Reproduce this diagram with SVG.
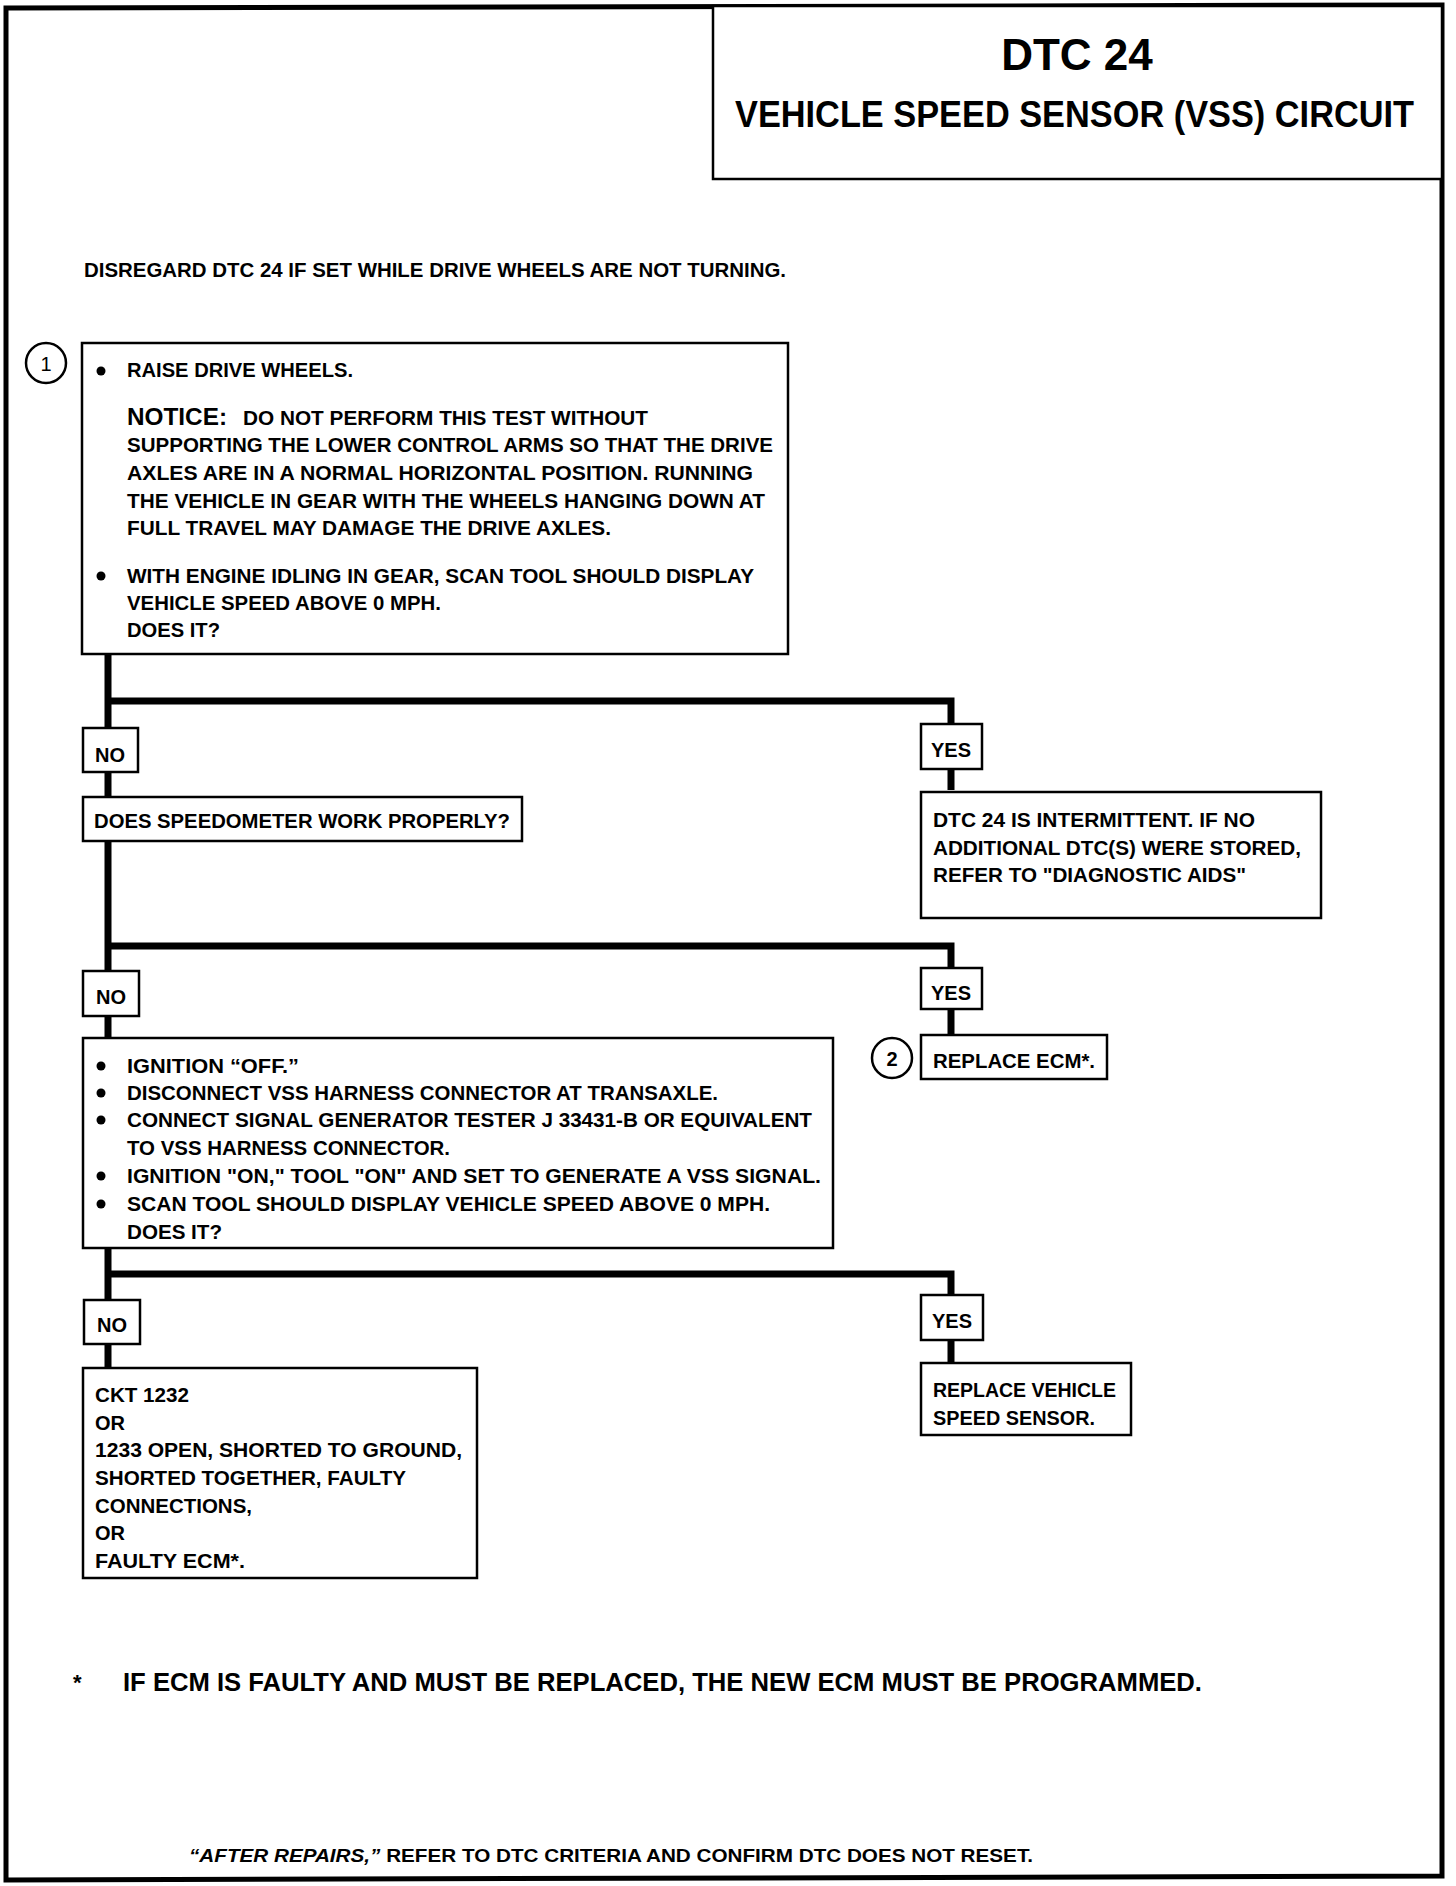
<svg xmlns="http://www.w3.org/2000/svg" width="1456" height="1886" viewBox="0 0 1456 1886">
<style>
text{font-family:"Liberation Sans",Arial,sans-serif;font-weight:bold;fill:#000}
.t{font-size:20px}
.box{fill:#fff;stroke:#000;stroke-width:2.5}
.wire{fill:none;stroke:#000;stroke-width:7;stroke-linejoin:miter}
.bul{fill:#000}
</style>
<rect width="1456" height="1886" fill="#fff"/>
<g id="frame">
<path d="M6,8 L1442,5 L1442,1876 L6,1880 Z" fill="none" stroke="#000" stroke-width="5"/>
</g>
<g id="title">
<rect x="713" y="6" width="729" height="173" fill="#fff" stroke="#000" stroke-width="2.5"/>
<text x="1077" y="70" font-size="44" text-anchor="middle">DTC 24</text>
<text x="735" y="127" font-size="36" textLength="679" lengthAdjust="spacingAndGlyphs">VEHICLE SPEED SENSOR (VSS) CIRCUIT</text>
</g>
<g id="note-top">
<text class="t" x="84" y="277" font-size="19" textLength="702" lengthAdjust="spacingAndGlyphs">DISREGARD DTC 24 IF SET WHILE DRIVE WHEELS ARE NOT TURNING.</text>
</g>
<g id="connectors">
<path class="wire" d="M108,654 L108,1367"/>
<path class="wire" d="M108,701 L951,701 L951,790"/>
<path class="wire" d="M108,946 L951,946 L951,1034"/>
<path class="wire" d="M108,1274 L951,1274 L951,1363"/>
</g>
<g id="step1">
<circle cx="46" cy="363" r="20" fill="#fff" stroke="#000" stroke-width="2.5"/>
<text x="46" y="371" font-size="20" text-anchor="middle" style="font-weight:normal">1</text>
<rect class="box" x="82" y="343" width="706" height="311"/>
<circle class="bul" cx="101" cy="371" r="4.5"/>
<text class="t" x="127" y="377" textLength="226" lengthAdjust="spacingAndGlyphs">RAISE DRIVE WHEELS.</text>
<text x="127" y="425" font-size="24" textLength="100" lengthAdjust="spacingAndGlyphs">NOTICE:</text>
<text class="t" x="243" y="425" textLength="405" lengthAdjust="spacingAndGlyphs">DO NOT PERFORM THIS TEST WITHOUT</text>
<text class="t" x="127" y="452" textLength="646" lengthAdjust="spacingAndGlyphs">SUPPORTING THE LOWER CONTROL ARMS SO THAT THE DRIVE</text>
<text class="t" x="127" y="480" textLength="626" lengthAdjust="spacingAndGlyphs">AXLES ARE IN A NORMAL HORIZONTAL POSITION.  RUNNING</text>
<text class="t" x="127" y="508" textLength="638" lengthAdjust="spacingAndGlyphs">THE VEHICLE IN GEAR WITH THE WHEELS HANGING DOWN AT</text>
<text class="t" x="127" y="535" textLength="484" lengthAdjust="spacingAndGlyphs">FULL TRAVEL MAY DAMAGE THE DRIVE AXLES.</text>
<circle class="bul" cx="101" cy="576" r="4.5"/>
<text class="t" x="127" y="583" textLength="627" lengthAdjust="spacingAndGlyphs">WITH ENGINE IDLING IN GEAR, SCAN TOOL SHOULD DISPLAY</text>
<text class="t" x="127" y="610" textLength="314" lengthAdjust="spacingAndGlyphs">VEHICLE SPEED ABOVE 0 MPH.</text>
<text class="t" x="127" y="637" textLength="93" lengthAdjust="spacingAndGlyphs">DOES IT?</text>
</g>
<g id="no1">
<rect class="box" x="83" y="728" width="55" height="44"/>
<text class="t" x="110" y="762" text-anchor="middle">NO</text>
</g>
<g id="speedo">
<rect class="box" x="83" y="797" width="439" height="44"/>
<text class="t" x="94" y="828" textLength="416" lengthAdjust="spacingAndGlyphs">DOES SPEEDOMETER WORK PROPERLY?</text>
</g>
<g id="yes1">
<rect class="box" x="921" y="724" width="61" height="45"/>
<text class="t" x="951" y="757" text-anchor="middle">YES</text>
</g>
<g id="intermittent">
<rect class="box" x="921" y="792" width="400" height="126"/>
<text class="t" x="933" y="827" textLength="322" lengthAdjust="spacingAndGlyphs">DTC 24 IS INTERMITTENT.  IF NO</text>
<text class="t" x="933" y="855" textLength="368" lengthAdjust="spacingAndGlyphs">ADDITIONAL DTC(S) WERE STORED,</text>
<text class="t" x="933" y="882" textLength="313" lengthAdjust="spacingAndGlyphs">REFER TO "DIAGNOSTIC AIDS"</text>
</g>
<g id="no2">
<rect class="box" x="83" y="971" width="56" height="45"/>
<text class="t" x="111" y="1004" text-anchor="middle">NO</text>
</g>
<g id="yes2">
<rect class="box" x="921" y="968" width="61" height="41"/>
<text class="t" x="951" y="1000" text-anchor="middle">YES</text>
</g>
<g id="step2">
<circle cx="892" cy="1058" r="20" fill="#fff" stroke="#000" stroke-width="2.5"/>
<text x="892" y="1066" font-size="20" text-anchor="middle">2</text>
<rect class="box" x="921" y="1035" width="186" height="44"/>
<text class="t" x="933" y="1068" textLength="162" lengthAdjust="spacingAndGlyphs">REPLACE ECM*.</text>
</g>
<g id="step3">
<rect class="box" x="83" y="1038" width="750" height="210"/>
<circle class="bul" cx="101" cy="1066" r="4.5"/>
<text class="t" x="127" y="1073" textLength="172" lengthAdjust="spacingAndGlyphs">IGNITION “OFF.”</text>
<circle class="bul" cx="101" cy="1093" r="4.5"/>
<text class="t" x="127" y="1100" textLength="591" lengthAdjust="spacingAndGlyphs">DISCONNECT VSS HARNESS CONNECTOR AT TRANSAXLE.</text>
<circle class="bul" cx="101" cy="1120" r="4.5"/>
<text class="t" x="127" y="1127" textLength="685" lengthAdjust="spacingAndGlyphs">CONNECT SIGNAL GENERATOR TESTER  J 33431-B OR EQUIVALENT</text>
<text class="t" x="127" y="1155" textLength="323" lengthAdjust="spacingAndGlyphs">TO VSS HARNESS CONNECTOR.</text>
<circle class="bul" cx="101" cy="1176" r="4.5"/>
<text class="t" x="127" y="1183" textLength="694" lengthAdjust="spacingAndGlyphs">IGNITION "ON," TOOL "ON" AND SET TO GENERATE A VSS SIGNAL.</text>
<circle class="bul" cx="101" cy="1204" r="4.5"/>
<text class="t" x="127" y="1211" textLength="643" lengthAdjust="spacingAndGlyphs">SCAN TOOL  SHOULD DISPLAY VEHICLE SPEED  ABOVE  0 MPH.</text>
<text class="t" x="127" y="1239" textLength="95" lengthAdjust="spacingAndGlyphs">DOES IT?</text>
</g>
<g id="no3">
<rect class="box" x="84" y="1300" width="56" height="44"/>
<text class="t" x="112" y="1332" text-anchor="middle">NO</text>
</g>
<g id="yes3">
<rect class="box" x="921" y="1295" width="62" height="45"/>
<text class="t" x="952" y="1328" text-anchor="middle">YES</text>
</g>
<g id="ckt">
<rect class="box" x="83" y="1368" width="394" height="210"/>
<text class="t" x="95" y="1402" textLength="94" lengthAdjust="spacingAndGlyphs">CKT 1232</text>
<text class="t" x="95" y="1430">OR</text>
<text class="t" x="95" y="1457" textLength="367" lengthAdjust="spacingAndGlyphs">1233 OPEN, SHORTED TO GROUND,</text>
<text class="t" x="95" y="1485" textLength="311" lengthAdjust="spacingAndGlyphs">SHORTED TOGETHER, FAULTY</text>
<text class="t" x="95" y="1513" textLength="157" lengthAdjust="spacingAndGlyphs">CONNECTIONS,</text>
<text class="t" x="95" y="1540">OR</text>
<text class="t" x="95" y="1568" textLength="150" lengthAdjust="spacingAndGlyphs">FAULTY ECM*.</text>
</g>
<g id="replace-vss">
<rect class="box" x="921" y="1363" width="210" height="72"/>
<text class="t" x="933" y="1397" textLength="183" lengthAdjust="spacingAndGlyphs">REPLACE VEHICLE</text>
<text class="t" x="933" y="1425" textLength="162" lengthAdjust="spacingAndGlyphs">SPEED SENSOR.</text>
</g>
<g id="footnote">
<text x="73" y="1690" font-size="22">*</text>
<text x="123" y="1691" font-size="25" textLength="1079" lengthAdjust="spacingAndGlyphs">IF ECM IS FAULTY AND MUST BE REPLACED, THE NEW ECM MUST BE PROGRAMMED.</text>
</g>
<g id="after-repairs">
<text x="189" y="1862" font-size="18" textLength="844" lengthAdjust="spacingAndGlyphs"><tspan font-style="italic">“AFTER REPAIRS,”</tspan> REFER TO DTC CRITERIA AND CONFIRM DTC DOES NOT RESET.</text>
</g>
</svg>
